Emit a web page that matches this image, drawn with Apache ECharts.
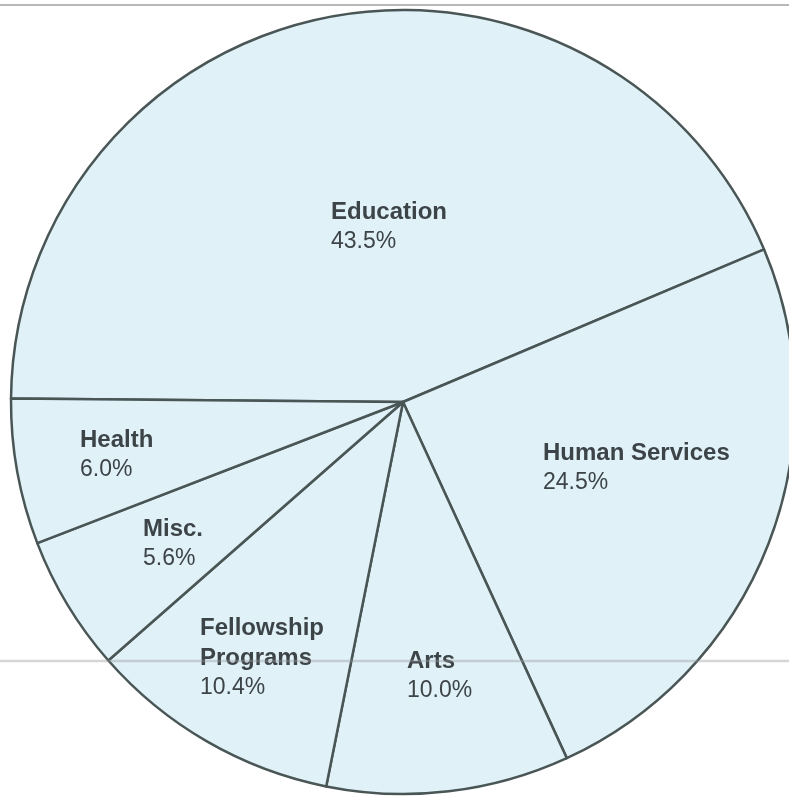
<!DOCTYPE html>
<html>
<head>
<meta charset="utf-8">
<script src="https://cdn.jsdelivr.net/npm/echarts@6/dist/echarts.min.js"></script>
<style>
html,body{margin:0;padding:0;background:#fff;}
#c{width:789px;height:797px;}
</style>
</head>
<body>
<div id="c"></div>
<script>
// Data (clockwise from the left horizontal boundary)
const categories = ['Education', 'Human Services', 'Arts', 'Fellowship Programs', 'Misc.', 'Health'];
const percents = [43.5, 24.5, 10.0, 10.4, 5.6, 6.0];

// Label placement (top-left of each label block, styling only)
const labelPos = {
  'Education': [331, 197],
  'Human Services': [543, 438],
  'Arts': [407, 646],
  'Fellowship Programs': [200, 613],
  'Misc.': [143, 514],
  'Health': [80, 425]
};

const chart = echarts.init(document.getElementById('c'), null, {renderer: 'canvas'});
const FONT = '"Liberation Sans", Arial, Helvetica, sans-serif';

chart.setOption({
  animation: false,
  backgroundColor: '#ffffff',
  graphic: [
    {type: 'line', shape: {x1: 0, y1: 5, x2: 789, y2: 5}, style: {stroke: '#b8b8b8', lineWidth: 2}, z: 100},
    {type: 'line', shape: {x1: 0, y1: 661, x2: 789, y2: 661}, style: {stroke: 'rgba(150,155,155,0.4)', lineWidth: 2.5}, z: 100}
  ],
  series: [{
    type: 'pie',
    center: [403, 402],
    radius: [0, 392],
    startAngle: 179.5,
    clockwise: true,
    avoidLabelOverlap: false,
    silent: true,
    itemStyle: {
      color: '#e0f1f8',
      borderColor: '#4a5656',
      borderWidth: 2.5
    },
    label: {
      show: true,
      position: 'inside',
      formatter: function (p) {
        const nm = p.name === 'Fellowship Programs' ? '{b|Fellowship}\n{b|Programs}' : '{b|' + p.name + '}';
        return nm + '\n{v|' + p.value.toFixed(1) + '%}';
      },
      rich: {
        b: {fontFamily: FONT, fontWeight: 'bold', fontSize: 24, color: '#3d4448', lineHeight: 30},
        v: {fontFamily: FONT, fontWeight: 'normal', fontSize: 23, color: '#3d4448', lineHeight: 30}
      }
    },
    labelLine: {show: false},
    labelLayout: function (params) {
      const name = categories[params.dataIndex];
      const pos = labelPos[name];
      return {x: pos[0], y: pos[1], align: 'left', verticalAlign: 'top'};
    },
    data: categories.map(function (c, i) { return {name: c, value: percents[i]}; })
  }]
});
</script>
</body>
</html>
